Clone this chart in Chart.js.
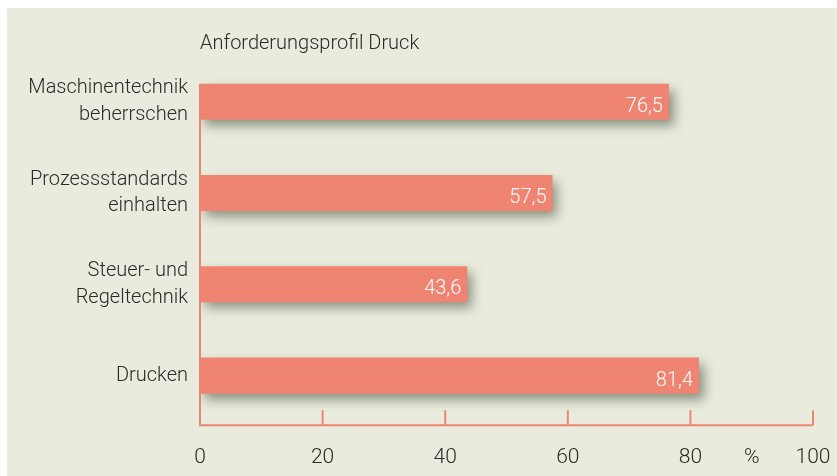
<!DOCTYPE html>
<html>
<head>
<meta charset="utf-8">
<script src="https://cdn.jsdelivr.net/npm/chart.js@4.4.1/dist/chart.umd.min.js"></script>
<style>
    html, body { margin: 0; padding: 0; background: #ffffff; }
    #wrap {
        position: absolute; left: 7px; top: 8px;
        width: 830px; height: 468px;
        background: #e9ecdc;
    }
</style>
</head>
<body>
<div id="wrap"><canvas id="chart" width="830" height="468"></canvas></div>
<script>
    // --- Data ---
    const categories = [
        ['Maschinentechnik', 'beherrschen'],
        ['Prozessstandards', 'einhalten'],
        ['Steuer- und', 'Regeltechnik'],
        ['Drucken']
    ];
    const values = [76.5, 57.5, 43.6, 81.4];
    const tickValues = [0, 20, 40, 60, 80, 100];
    const unitLabel = '%';
    const unitAt = 90;

    const salmon = '#f08473';
    const formatValue = (v) => v.toFixed(1).replace('.', ',');

    // shadow under the bars
    const barShadow = {
        id: 'barShadow',
        beforeDatasetsDraw(chart) {
            const ctx = chart.ctx;
            ctx.save();
            ctx.shadowColor = 'rgba(60, 65, 50, 0.55)';
            ctx.shadowBlur = 11;
            ctx.shadowOffsetX = 5;
            ctx.shadowOffsetY = 6;
        },
        afterDatasetsDraw(chart) {
            chart.ctx.restore();
        }
    };

    // axis lines, upward ticks and value labels
    const decorations = {
        id: 'decorations',
        afterDatasetsDraw(chart) {
            const ctx = chart.ctx;
            const x = chart.scales.x;
            const area = chart.chartArea;
            const bars = chart.getDatasetMeta(0).data;
            const axisY = area.bottom + 4;

            ctx.save();
            ctx.strokeStyle = salmon;
            ctx.lineWidth = 2;
            ctx.beginPath();
            ctx.moveTo(x.getPixelForValue(0), bars[0].y - bars[0].height / 2);
            ctx.lineTo(x.getPixelForValue(0), axisY);
            ctx.lineTo(x.getPixelForValue(100), axisY);
            tickValues.forEach(v => {
                const px = x.getPixelForValue(v);
                ctx.moveTo(px, axisY);
                ctx.lineTo(px, axisY - 15);
            });
            ctx.stroke();

            ctx.fillStyle = '#ffffff';
            ctx.font = '300 20px Roboto, sans-serif';
            ctx.textAlign = 'right';
            ctx.textBaseline = 'middle';
            bars.forEach((bar, i) => {
                ctx.fillText(formatValue(values[i]), bar.x - 6, bar.y + 5);
            });
            ctx.restore();
        }
    };

    new Chart(document.getElementById('chart'), {
        type: 'bar',
        data: {
            labels: categories,
            datasets: [{
                data: values,
                backgroundColor: salmon,
                borderWidth: 0,
                barPercentage: 0.395,
                categoryPercentage: 1.0
            }]
        },
        options: {
            indexAxis: 'y',
            responsive: false,
            animation: false,
            layout: { padding: { left: 0, right: 24, bottom: 0 } },
            scales: {
                x: {
                    min: 0,
                    max: 100,
                    grid: { display: false, drawTicks: false },
                    border: { display: false },
                    afterFit: (scale) => {
                        scale.height = 54.7;
                        scale.paddingLeft = 0;
                        scale.paddingRight = 0;
                    },
                    ticks: {
                        stepSize: 10,
                        autoSkip: false,
                        maxRotation: 0,
                        padding: 24,
                        color: '#2a2a2a',
                        font: { family: 'Roboto, sans-serif', size: 21, weight: 300 },
                        callback: (v) => tickValues.includes(v) ? String(v) : (v === unitAt ? unitLabel : '')
                    }
                },
                y: {
                    grid: { display: false, drawTicks: false },
                    border: { display: false },
                    afterFit: (scale) => { scale.width = 193; },
                    ticks: {
                        padding: 12,
                        color: '#2a2a2a',
                        font: { family: 'Roboto, sans-serif', size: 20, weight: 300, lineHeight: 1.33 }
                    }
                }
            },
            plugins: {
                legend: { display: false },
                tooltip: { enabled: false },
                title: {
                    display: true,
                    text: 'Anforderungsprofil Druck',
                    align: 'start',
                    fullSize: false,
                    color: '#2a2a2a',
                    font: { family: 'Roboto, sans-serif', size: 20, weight: 300 },
                    padding: { top: 24, bottom: 0 }
                }
            }
        },
        plugins: [barShadow, decorations]
    });
</script>
</body>
</html>
